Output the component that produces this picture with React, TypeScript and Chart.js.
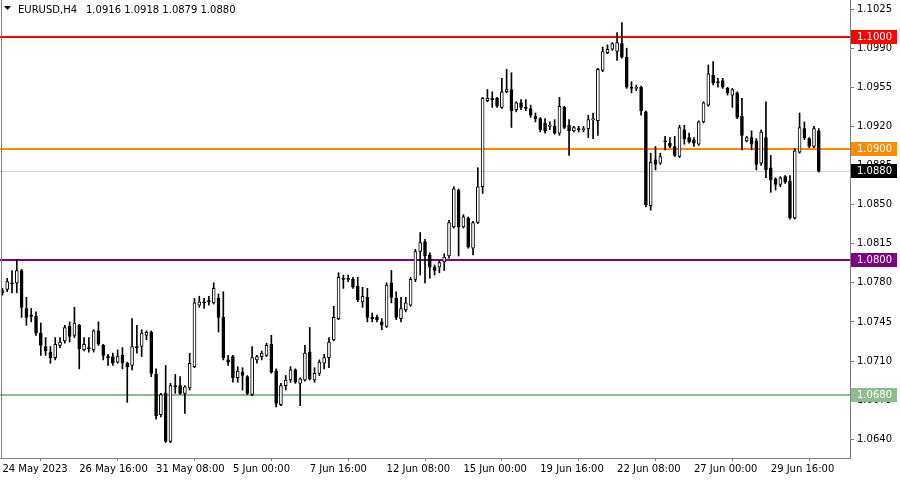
import React, { useEffect, useRef } from 'react';
import { Chart, registerables } from 'chart.js';

Chart.register(...registerables);

const symbolTitle = 'EURUSD,H4';
const titleValues = '1.0916 1.0918 1.0879 1.0880';

const opens = [
  1.0773, 1.0774, 1.0780, 1.0780, 1.0791, 1.0757, 1.0751, 1.0750, 1.0735, 1.0723,
  1.0718, 1.0713, 1.0724, 1.0728, 1.0741, 1.0733, 1.0742, 1.0720, 1.0722, 1.0720,
  1.0737, 1.0724, 1.0714, 1.0714, 1.0709, 1.0715, 1.0708, 1.0706, 1.0723, 1.0723,
  1.0733, 1.0736, 1.0698, 1.0662, 1.0681, 1.0638, 1.0688, 1.0688, 1.0681, 1.0686,
  1.0705, 1.0760, 1.0763, 1.0764, 1.0762, 1.0766, 1.0749, 1.0711, 1.0714, 1.0695,
  1.0700, 1.0696, 1.0680, 1.0711, 1.0714, 1.0715, 1.0725, 1.0701, 1.0671, 1.0688,
  1.0693, 1.0702, 1.0690, 1.0693, 1.0718, 1.0693, 1.0699, 1.0708, 1.0713, 1.0729,
  1.0748, 1.0784, 1.0784, 1.0783, 1.0777, 1.0763, 1.0767, 1.0749, 1.0749, 1.0745,
  1.0741, 1.0780, 1.0766, 1.0748, 1.0756, 1.0760, 1.0783, 1.0808, 1.0817, 1.0805,
  1.0794, 1.0794, 1.0799, 1.0804, 1.0830, 1.0863, 1.0830, 1.0838, 1.0811, 1.0834,
  1.0866, 1.0943, 1.0945, 1.0945, 1.0937, 1.0951, 1.0953, 1.0935, 1.0941, 1.0937,
  1.0936, 1.0929, 1.0927, 1.0923, 1.0920, 1.0920, 1.0914, 1.0937, 1.0921, 1.0916,
  1.0918, 1.0917, 1.0918, 1.0926, 1.0925, 1.0970, 1.0986, 1.0989, 1.0987, 1.0994,
  1.0982, 1.0955, 1.0954, 1.0955, 1.0933, 1.0849, 1.0890, 1.0887, 1.0907, 1.0905,
  1.0902, 1.0893, 1.0917, 1.0910, 1.0908, 1.0904, 1.0924, 1.0939, 1.0966, 1.0960,
  1.0961, 1.0954, 1.0948, 1.0950, 1.0929, 1.0907, 1.0910, 1.0907, 1.0887, 1.0910,
  1.0883, 1.0873, 1.0868, 1.0875, 1.0871, 1.0838, 1.0897, 1.0918, 1.0909, 1.0902,
  1.0916,
];

const highs = [
  1.0775, 1.0784, 1.0791, 1.0801, 1.0792, 1.0767, 1.0757, 1.0754, 1.0744, 1.0731,
  1.0723, 1.0731, 1.0731, 1.0742, 1.0745, 1.0758, 1.0743, 1.0731, 1.0731, 1.0738,
  1.0745, 1.0725, 1.0716, 1.0717, 1.0720, 1.0722, 1.0709, 1.0748, 1.0742, 1.0738,
  1.0737, 1.0737, 1.0703, 1.0681, 1.0706, 1.0690, 1.0698, 1.0696, 1.0688, 1.0717,
  1.0766, 1.0768, 1.0766, 1.0768, 1.0780, 1.0770, 1.0772, 1.0715, 1.0715, 1.0705,
  1.0704, 1.0697, 1.0723, 1.0715, 1.0719, 1.0726, 1.0733, 1.0703, 1.0690, 1.0697,
  1.0705, 1.0703, 1.0695, 1.0724, 1.0740, 1.0704, 1.0711, 1.0716, 1.0731, 1.0759,
  1.0789, 1.0787, 1.0787, 1.0785, 1.0785, 1.0776, 1.0775, 1.0753, 1.0751, 1.0748,
  1.0780, 1.0791, 1.0772, 1.0767, 1.0767, 1.0785, 1.0810, 1.0825, 1.0819, 1.0807,
  1.0796, 1.0800, 1.0806, 1.0836, 1.0866, 1.0864, 1.0841, 1.0839, 1.0835, 1.0883,
  1.0946, 1.0953, 1.0951, 1.0946, 1.0963, 1.0971, 1.0968, 1.0942, 1.0944, 1.0944,
  1.0939, 1.0932, 1.0928, 1.0927, 1.0924, 1.0926, 1.0946, 1.0938, 1.0926, 1.0920,
  1.0920, 1.0920, 1.0930, 1.0932, 1.0972, 1.0991, 1.0993, 1.0995, 1.1004, 1.1013,
  1.0990, 1.0960, 1.0957, 1.0956, 1.0934, 1.0896, 1.0902, 1.0896, 1.0911, 1.0910,
  1.0911, 1.0921, 1.0921, 1.0914, 1.0910, 1.0925, 1.0942, 1.0975, 1.0978, 1.0963,
  1.0963, 1.0955, 1.0954, 1.0951, 1.0945, 1.0911, 1.0916, 1.0909, 1.0917, 1.0942,
  1.0894, 1.0874, 1.0875, 1.0876, 1.0876, 1.0900, 1.0932, 1.0924, 1.0910, 1.0920,
  1.0918,
];

const lows = [
  1.0769, 1.0772, 1.0771, 1.0771, 1.0749, 1.0742, 1.0745, 1.0733, 1.0715, 1.0715,
  1.0708, 1.0711, 1.0722, 1.0726, 1.0727, 1.0731, 1.0703, 1.0719, 1.0718, 1.0718,
  1.0724, 1.0711, 1.0706, 1.0706, 1.0708, 1.0703, 1.0673, 1.0702, 1.0717, 1.0714,
  1.0729, 1.0696, 1.0658, 1.0660, 1.0637, 1.0637, 1.0681, 1.0680, 1.0663, 1.0684,
  1.0704, 1.0758, 1.0757, 1.0760, 1.0761, 1.0736, 1.0711, 1.0706, 1.0691, 1.0691,
  1.0684, 1.0680, 1.0679, 1.0708, 1.0711, 1.0714, 1.0699, 1.0669, 1.0670, 1.0684,
  1.0691, 1.0690, 1.0670, 1.0692, 1.0693, 1.0691, 1.0697, 1.0703, 1.0704, 1.0728,
  1.0747, 1.0775, 1.0781, 1.0775, 1.0763, 1.0758, 1.0745, 1.0745, 1.0745, 1.0738,
  1.0740, 1.0762, 1.0747, 1.0745, 1.0754, 1.0759, 1.0781, 1.0787, 1.0780, 1.0784,
  1.0787, 1.0789, 1.0791, 1.0802, 1.0829, 1.0804, 1.0829, 1.0811, 1.0805, 1.0833,
  1.0860, 1.0942, 1.0937, 1.0937, 1.0936, 1.0950, 1.0919, 1.0933, 1.0935, 1.0934,
  1.0928, 1.0924, 1.0915, 1.0914, 1.0917, 1.0913, 1.0912, 1.0918, 1.0894, 1.0915,
  1.0915, 1.0915, 1.0910, 1.0909, 1.0912, 1.0969, 1.0985, 1.0988, 1.0979, 1.0981,
  1.0954, 1.0950, 1.0952, 1.0930, 1.0848, 1.0845, 1.0881, 1.0886, 1.0899, 1.0901,
  1.0893, 1.0892, 1.0904, 1.0905, 1.0902, 1.0903, 1.0923, 1.0938, 1.0957, 1.0955,
  1.0954, 1.0948, 1.0937, 1.0927, 1.0899, 1.0906, 1.0899, 1.0881, 1.0885, 1.0874,
  1.0861, 1.0863, 1.0866, 1.0869, 1.0837, 1.0837, 1.0896, 1.0908, 1.0901, 1.0901,
  1.0879,
];

const closes = [
  1.0771, 1.0781, 1.0779, 1.0791, 1.0758, 1.0749, 1.0750, 1.0735, 1.0724, 1.0719,
  1.0713, 1.0725, 1.0727, 1.0740, 1.0732, 1.0744, 1.0721, 1.0725, 1.0721, 1.0737,
  1.0725, 1.0715, 1.0713, 1.0708, 1.0714, 1.0708, 1.0705, 1.0723, 1.0722, 1.0735,
  1.0736, 1.0699, 1.0661, 1.0680, 1.0638, 1.0688, 1.0687, 1.0681, 1.0687, 1.0708,
  1.0762, 1.0763, 1.0762, 1.0763, 1.0775, 1.0749, 1.0713, 1.0709, 1.0695, 1.0701,
  1.0697, 1.0681, 1.0713, 1.0714, 1.0717, 1.0724, 1.0700, 1.0672, 1.0688, 1.0693,
  1.0702, 1.0691, 1.0694, 1.0717, 1.0694, 1.0699, 1.0709, 1.0713, 1.0727, 1.0749,
  1.0785, 1.0783, 1.0783, 1.0776, 1.0765, 1.0768, 1.0749, 1.0748, 1.0747, 1.0742,
  1.0778, 1.0767, 1.0749, 1.0757, 1.0762, 1.0783, 1.0808, 1.0816, 1.0804, 1.0794,
  1.0791, 1.0798, 1.0803, 1.0834, 1.0864, 1.0830, 1.0839, 1.0812, 1.0834, 1.0866,
  1.0945, 1.0945, 1.0944, 1.0938, 1.0951, 1.0953, 1.0934, 1.0941, 1.0937, 1.0936,
  1.0930, 1.0927, 1.0917, 1.0916, 1.0921, 1.0914, 1.0938, 1.0919, 1.0916, 1.0919,
  1.0917, 1.0918, 1.0926, 1.0927, 1.0971, 1.0987, 1.0989, 1.0994, 1.0995, 1.0982,
  1.0955, 1.0954, 1.0955, 1.0934, 1.0850, 1.0888, 1.0886, 1.0893, 1.0906, 1.0902,
  1.0894, 1.0919, 1.0909, 1.0906, 1.0905, 1.0924, 1.0941, 1.0967, 1.0959, 1.0959,
  1.0955, 1.0950, 1.0953, 1.0928, 1.0912, 1.0910, 1.0904, 1.0886, 1.0915, 1.0881,
  1.0872, 1.0868, 1.0874, 1.0870, 1.0838, 1.0898, 1.0919, 1.0910, 1.0902, 1.0918,
  1.0880,
];

const xTickLabels = [
  '24 May 2023', '26 May 16:00', '31 May 08:00', '5 Jun 00:00', '7 Jun 16:00',
  '12 Jun 08:00', '15 Jun 00:00', '19 Jun 16:00', '22 Jun 08:00', '27 Jun 00:00',
  '29 Jun 16:00',
];
const barsPerTickLabel = 16;
const emptyBarsRight = 6;

const yMin = 1.06232;
const yMax = 1.10331;
const yStep = 0.0035;

const levelValues = [1.1, 1.09, 1.088, 1.08, 1.068];
const levelLineColors = ['#ff0000', '#ff8c00', '#d3d3d3', '#800080', '#8fbc8f'];
const levelBoxColors = ['#ff0000', '#ff8c00', '#000000', '#800080', '#8fbc8f'];
const levelLineWidths = [2, 2, 1, 2, 2];

const FONT_FAMILY = '"DejaVu Sans", "Liberation Sans", sans-serif';
const FONT_SIZE = 10;

const overlayPlugin = {
  id: 'mtOverlay',
  beforeDatasetsDraw(chart: any) {
    const { ctx, chartArea, scales } = chart;
    const y = scales.y;
    ctx.save();
    levelValues.forEach((v, i) => {
      const w = levelLineWidths[i];
      const py = Math.round(y.getPixelForValue(v)) + (w % 2 ? 0.5 : 0);
      ctx.strokeStyle = levelLineColors[i];
      ctx.lineWidth = w;
      ctx.beginPath();
      ctx.moveTo(chartArea.left, py);
      ctx.lineTo(chartArea.right, py);
      ctx.stroke();
    });
    ctx.restore();
  },
  afterDraw(chart: any) {
    const { ctx, chartArea, scales } = chart;
    const y = scales.y;
    ctx.save();
    // left frame line
    ctx.strokeStyle = '#808080';
    ctx.lineWidth = 1;
    ctx.beginPath();
    ctx.moveTo(1.5, chartArea.top);
    ctx.lineTo(1.5, chartArea.bottom);
    ctx.stroke();

    // level labels on the price axis
    ctx.font = `${FONT_SIZE}px ${FONT_FAMILY}`;
    ctx.textBaseline = 'middle';
    ctx.textAlign = 'left';
    levelValues.forEach((v, i) => {
      const py = Math.round(y.getPixelForValue(v));
      ctx.fillStyle = levelBoxColors[i];
      ctx.fillRect(chartArea.right + 1, py - 7, 46, 14);
      ctx.fillStyle = '#ffffff';
      ctx.fillText(v.toFixed(4), chartArea.right + 7, py + 0.5);
    });

    // title
    ctx.fillStyle = '#000000';
    ctx.beginPath();
    ctx.moveTo(4, 6);
    ctx.lineTo(11, 6);
    ctx.lineTo(7.5, 10);
    ctx.closePath();
    ctx.fill();
    ctx.fillText(symbolTitle, 18, 10);
    ctx.fillText(titleValues, 86, 10);
    ctx.restore();
  },
};

export default function App() {
  const canvasRef = useRef<HTMLCanvasElement | null>(null);

  useEffect(() => {
    const canvas = canvasRef.current;
    if (!canvas) return;
    const n = opens.length;
    const total = n + emptyBarsRight;
    const labels = Array.from({ length: total }, (_, i) => String(i));
    const bodyData = opens.map((o, i) => [o, closes[i]]);
    const wickData = opens.map((_, i) => [lows[i], highs[i]]);
    const bodyColors = opens.map((o, i) => (closes[i] > o ? '#ffffff' : '#000000'));
    const font = { family: FONT_FAMILY, size: FONT_SIZE };

    const zeroPad = (s: any) => {
      s.paddingLeft = 0;
      s.paddingRight = 0;
      s.paddingTop = 0;
      s.paddingBottom = 0;
    };

    const chart = new Chart(canvas, {
      type: 'bar',
      data: {
        labels,
        datasets: [
          {
            data: bodyData as any,
            backgroundColor: bodyColors,
            borderColor: '#000000',
            borderWidth: 1,
            borderSkipped: false,
            barThickness: 3,
            minBarLength: 1,
            grouped: false,
            order: 0,
          } as any,
          {
            data: wickData as any,
            backgroundColor: '#000000',
            borderWidth: 0,
            barThickness: 1,
            grouped: false,
            order: 1,
          } as any,
        ],
      },
      options: {
        animation: false,
        responsive: false,
        events: [],
        layout: { padding: 0 },
        plugins: {
          legend: { display: false },
          tooltip: { enabled: false },
          title: { display: false },
        },
        scales: {
          x: {
            type: 'category',
            offset: true,
            grid: {
              display: true,
              drawOnChartArea: false,
              drawTicks: true,
              tickLength: 3,
              color: '#808080',
            },
            border: { display: true, color: '#808080' },
            ticks: {
              autoSkip: false,
              maxRotation: 0,
              minRotation: 0,
              align: 'start',
              padding: 2,
              color: '#000000',
              font,
              callback: (_v: any, i: number) =>
                i % barsPerTickLabel === 0 && i / barsPerTickLabel < xTickLabels.length
                  ? xTickLabels[i / barsPerTickLabel]
                  : null,
            },
            afterFit: (s: any) => {
              s.height = 22;
              zeroPad(s);
            },
          },
          y: {
            type: 'linear',
            position: 'right',
            min: yMin,
            max: yMax,
            grid: {
              drawOnChartArea: false,
              drawTicks: true,
              tickLength: 4,
              color: '#808080',
            },
            border: { display: true, color: '#808080' },
            ticks: {
              stepSize: yStep,
              maxTicksLimit: 30,
              includeBounds: false,
              padding: 3,
              color: '#000000',
              font,
              callback: (v: any) => Number(v).toFixed(4),
            },
            afterFit: (s: any) => {
              s.width = 50;
              zeroPad(s);
            },
          },
        },
      } as any,
      plugins: [overlayPlugin],
    });

    return () => chart.destroy();
  }, []);

  return (
    <div style={{ position: 'fixed', left: 0, top: 0, width: 900, height: 480, background: '#ffffff' }}>
      <canvas ref={canvasRef} width={900} height={480} style={{ display: 'block' }} />
    </div>
  );
}
